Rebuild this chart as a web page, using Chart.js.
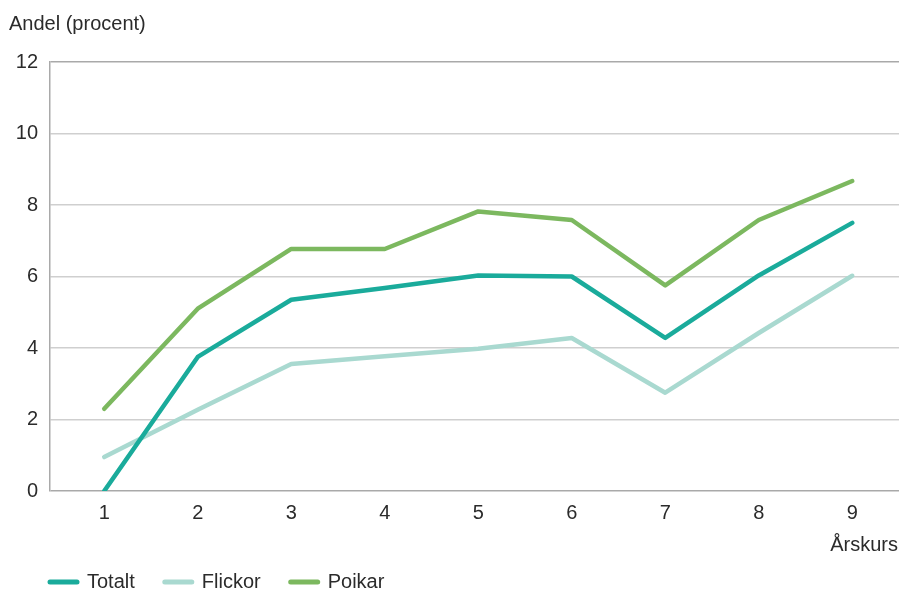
<!DOCTYPE html>
<html>
<head>
<meta charset="utf-8">
<script src="https://cdn.jsdelivr.net/npm/chart.js@4/dist/chart.umd.min.js"></script>
<style>
  html, body { margin: 0; padding: 0; background: #fff; }
  #wrap { width: 901px; height: 590px; }
</style>
</head>
<body>
<div id="wrap"><canvas id="chart" width="901" height="590"></canvas></div>
<script>
// arskurs 1-9
const arskurs = [1, 2, 3, 4, 5, 6, 7, 8, 9]
const totalt = [0, 3.75, 5.35, 5.68, 6.03, 6.0, 4.28, 6.03, 7.5]
const flickor = [0.95, 2.27, 3.55, 3.77, 3.98, 4.28, 2.75, 4.42, 6.02]
const poikar = [2.3, 5.1, 6.77, 6.77, 7.82, 7.58, 5.75, 7.58, 8.67]
const yTicks = [0, 2, 4, 6, 8, 10, 12]

const FONT = '"Liberation Sans", Arial, sans-serif'
const TEXT = '#2b2b2b'

function points(values) {
    return values.map(function(v, i) { return { x: arskurs[i], y: v } })
}

const extraText = {
    id: 'extraText',
    afterDraw(chart) {
        const ctx = chart.ctx
        ctx.save()
        ctx.fillStyle = TEXT
        ctx.font = '20px ' + FONT
        ctx.textBaseline = 'middle'
        ctx.textAlign = 'left'
        ctx.fillText('Andel (procent)', 9, 24)
        ctx.textAlign = 'right'
        ctx.fillText('Årskurs', 898, 545)

        // legend
        let x = 48
        const y = 582
        ctx.textAlign = 'left'
        chart.data.datasets.forEach(function(ds) {
            ctx.strokeStyle = ds.borderColor
            ctx.lineWidth = 5
            ctx.lineCap = 'round'
            ctx.beginPath()
            ctx.moveTo(x + 2, y)
            ctx.lineTo(x + 29, y)
            ctx.stroke()
            ctx.fillText(ds.label, x + 39, y)
            x = x + 39 + ctx.measureText(ds.label).width + 28
        })
        ctx.restore()
    }
}

new Chart(document.getElementById('chart'), {
    type: 'line',
    data: {
        datasets: [
            { label: 'Totalt', data: points(totalt), borderColor: '#1aab9b' },
            { label: 'Flickor', data: points(flickor), borderColor: '#a9d9d0' },
            { label: 'Poikar', data: points(poikar), borderColor: '#7cb85f' }
        ]
    },
    options: {
        responsive: false,
        animation: false,
        layout: { padding: { top: 62, right: 2, left: 0, bottom: 0 } },
        elements: {
            line: { borderWidth: 4.5, tension: 0, borderCapStyle: 'round', borderJoinStyle: 'round' },
            point: { radius: 0 }
        },
        plugins: {
            legend: { display: false },
            tooltip: { enabled: false }
        },
        scales: {
            x: {
                type: 'linear',
                min: 0.42,
                max: 9.5,
                afterBuildTicks: function(scale) {
                    scale.ticks = arskurs.map(function(v) { return { value: v } })
                },
                afterFit: function(scale) { scale.height = 99 },
                grid: { display: false },
                border: { display: false },
                ticks: {
                    color: TEXT,
                    font: { family: FONT, size: 20 },
                    padding: 2,
                    maxRotation: 0,
                    autoSkip: false
                }
            },
            y: {
                min: 0,
                max: 12,
                afterBuildTicks: function(scale) {
                    scale.ticks = yTicks.map(function(v) { return { value: v } })
                },
                afterFit: function(scale) { scale.width = 50 },
                grid: {
                    drawTicks: false,
                    lineWidth: 1.5,
                    color: function(c) {
                        return (c.tick && (c.tick.value === 0 || c.tick.value === 12)) ? '#a9a9a9' : '#cfcfcf'
                    }
                },
                border: { display: true, color: '#a9a9a9', width: 1.5 },
                ticks: {
                    color: TEXT,
                    font: { family: FONT, size: 20 },
                    padding: 12
                }
            }
        }
    },
    plugins: [extraText]
})
</script>
</body>
</html>
